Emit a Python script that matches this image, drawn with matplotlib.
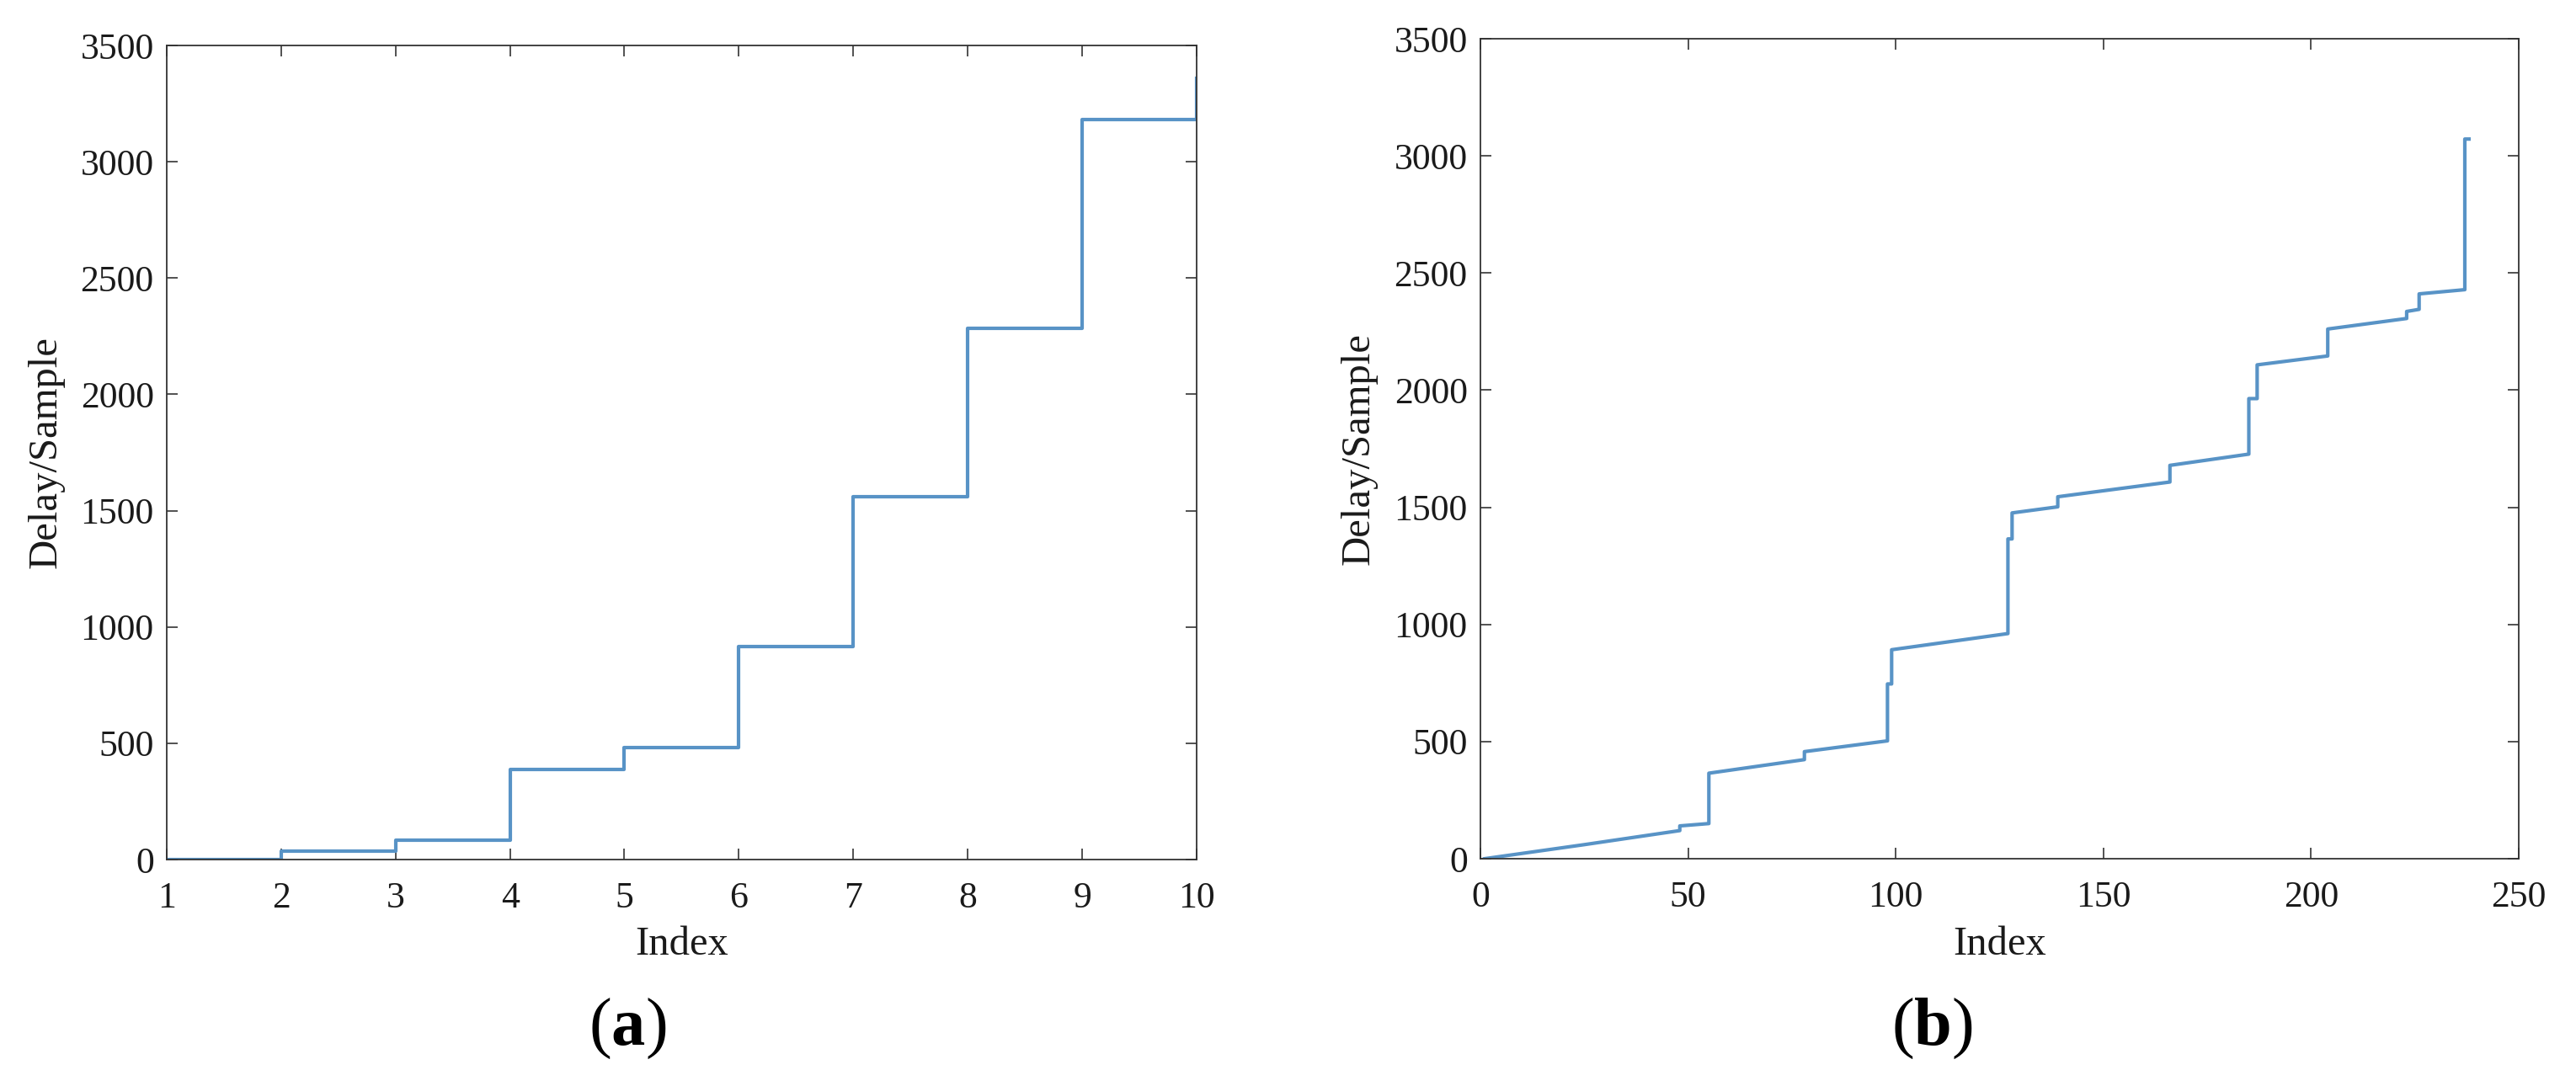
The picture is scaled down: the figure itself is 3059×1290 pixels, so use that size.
import matplotlib.pyplot as plt

plt.rcParams['font.family'] = ['Liberation Serif', 'DejaVu Serif']
plt.rcParams['mathtext.fontset'] = 'custom'
plt.rcParams['mathtext.rm'] = 'Liberation Serif'
plt.rcParams['mathtext.bf'] = 'Liberation Serif:bold'

# (a) stairs over 10 indices
index_a = [1, 2, 3, 4, 5, 6, 7, 8, 9, 10]
delay_a = [0, 38, 82, 388, 480, 916, 1560, 2283, 3180, 3360]

# (b) corner points (jumps repeat the index)
index_b = [1, 25, 48, 48, 55, 55, 78, 78, 98, 98, 99, 99, 127, 127, 128, 128,
           139, 139, 166, 166, 185, 185, 187, 187, 204, 204, 223, 223, 226, 226,
           237, 237, 238]
delay_b = [0, 60, 120, 140, 150, 365, 423, 457, 503, 746, 746, 892, 961, 1365,
           1365, 1476, 1502, 1545, 1608, 1679, 1727, 1964, 1964, 2108, 2146, 2261,
           2306, 2336, 2345, 2411, 2429, 3072, 3072]

yticks = [0, 500, 1000, 1500, 2000, 2500, 3000, 3500]
xticks_a = index_a
xticks_b = [0, 50, 100, 150, 200, 250]

line_color = '#5893c6'
axis_color = '#333333'

fig = plt.figure(figsize=(30.59, 12.90), dpi=100)
ax1 = fig.add_axes([0.0647, 0.2085, 0.3998, 0.7496])
ax2 = fig.add_axes([0.5747, 0.2093, 0.4031, 0.7550])

ax1.step(index_a, delay_a, where='post', color=line_color, lw=3.0)
ax2.plot(index_b, delay_b, color=line_color, lw=3.0)

for ax, xt, xlim in [(ax1, xticks_a, (1, 10)), (ax2, xticks_b, (0, 250))]:
    ax.set_xlim(*xlim)
    ax.set_ylim(0, 3500)
    ax.set_xticks(xt)
    ax.set_yticks(yticks)
    ax.tick_params(direction='in', top=True, right=True, length=9.5,
                   width=1.2, color=axis_color, labelsize=31.5, labelcolor='#1a1a1a')
    ax.tick_params(axis='x', pad=18.5)
    ax.tick_params(axis='y', pad=11)
    for s in ax.spines.values():
        s.set_color(axis_color)
        s.set_linewidth(1.3)
    ax.set_xlabel('Index', fontsize=35, color='#1a1a1a')
    ax.set_ylabel('Delay/Sample', fontsize=35, color='#1a1a1a')
    ax.xaxis.set_label_coords(0.5, -0.082)
    ax.yaxis.set_label_coords(-0.099, 0.5)

fig.text(0.2435, 0.0527, r'($\mathbf{a}$)', fontsize=58, ha='center', va='center')
fig.text(0.7502, 0.0527, r'($\mathbf{b}$)', fontsize=58, ha='center', va='center')

fig.savefig('out.png', dpi=100)
